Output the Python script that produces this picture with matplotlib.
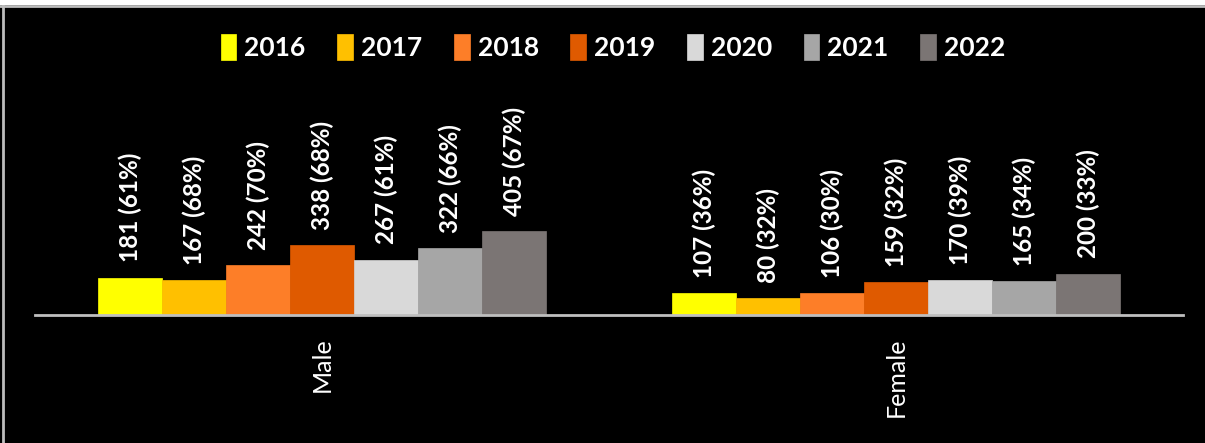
import numpy as np
import matplotlib
matplotlib.use("Agg")
import matplotlib.pyplot as plt
from matplotlib.patches import Rectangle

years = ["2016", "2017", "2018", "2019", "2020", "2021", "2022"]
groups = ["Male", "Female"]
male = [181, 167, 242, 338, 267, 322, 405]
male_pct = [61, 68, 70, 68, 61, 66, 67]
female = [107, 80, 106, 159, 170, 165, 200]
female_pct = [36, 32, 30, 32, 39, 34, 33]
colors = ["#FFFF00", "#FFC000", "#FD7E28", "#DF5A00", "#D9D9D9", "#A6A6A6", "#7B7574"]

plt.rcParams['font.family'] = ['Lato', 'DejaVu Sans']

fig = plt.figure(figsize=(12.05, 4.43), dpi=100, facecolor="black")
# white strip and frame at the top / left edge
fig.patches.append(Rectangle((0, 1 - 5/443), 1, 5/443, transform=fig.transFigure,
                             facecolor="white", edgecolor="none", zorder=0))
fig.lines.append(plt.Line2D([0, 1], [1 - 6/443, 1 - 6/443], transform=fig.transFigure,
                            color="#BDBDBD", lw=2))
fig.lines.append(plt.Line2D([3/1205, 3/1205], [0, 1 - 6/443], transform=fig.transFigure,
                            color="#BDBDBD", lw=2))

ax = fig.add_axes([35/1205, 1 - 315/443, 1148/1205, 225/443])
ax.set_facecolor("black")

x = np.arange(len(groups))
w = 0.1115
vals = np.array([male, female]).T
pcts = np.array([male_pct, female_pct]).T
for i, yr in enumerate(years):
    pos = x + (i - 3) * w
    bars = ax.bar(pos, vals[i], width=w, color=colors[i], label=yr,
                  edgecolor=colors[i], linewidth=0.5)
    labels = [f"{v} ({p}%)" for v, p in zip(vals[i], pcts[i])]
    for b, lab in zip(bars, labels):
        ax.annotate(lab, (b.get_x() + b.get_width() / 2, b.get_height()),
                    xytext=(0, 11), textcoords="offset points", rotation=90,
                    ha="center", va="bottom", color="white", fontsize=17.5,
                    fontweight="bold")

ax.set_xlim(-0.5, 1.5)
ax.set_ylim(0, 1087)
ax.set_xticks(x)
ax.set_xticklabels(groups, rotation=90, va="top")
ax.tick_params(axis="x", length=0, pad=16, labelsize=18, labelcolor="white")
ax.set_yticks([])
for s in ["top", "right", "left"]:
    ax.spines[s].set_visible(False)
ax.spines["bottom"].set_color("#BFBFBF")
ax.spines["bottom"].set_linewidth(2)

leg = fig.legend(loc="center", bbox_to_anchor=(613/1205, 1 - 47/443), ncol=7,
                 frameon=False, fontsize=19, handlelength=0.6, handleheight=1.1,
                 handletextpad=0.3, columnspacing=1.2)
for t in leg.get_texts():
    t.set_color("white")
    t.set_fontweight("bold")

fig.savefig("out.png", dpi=100, facecolor="black")
